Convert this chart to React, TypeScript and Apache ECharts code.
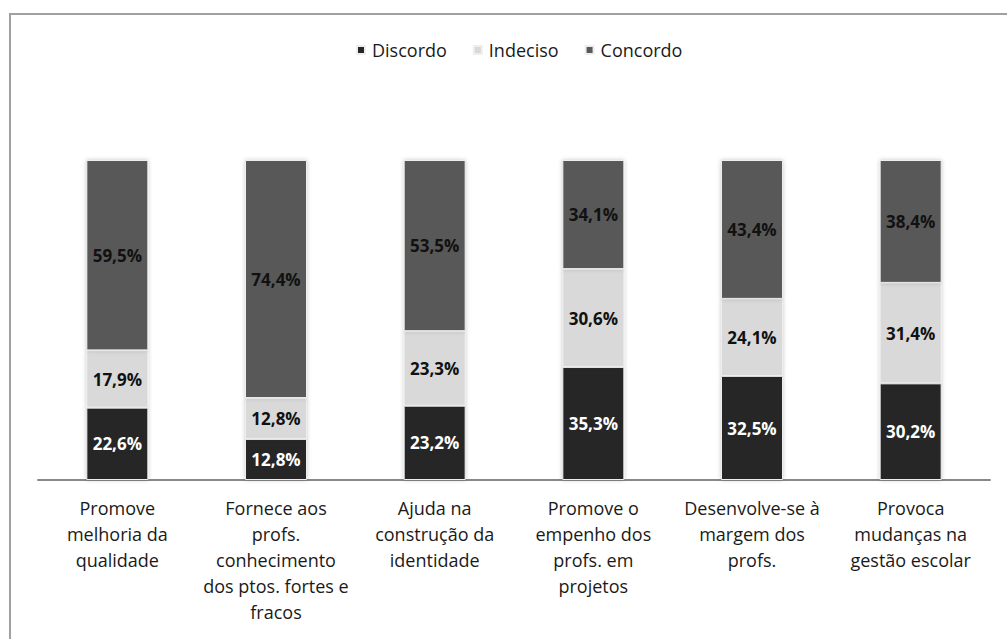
import React, { useEffect, useRef } from "react";
import * as echarts from "echarts";

const categories = [
  "Promove\nmelhoria da\nqualidade",
  "Fornece aos\nprofs.\nconhecimento\ndos ptos. fortes e\nfracos",
  "Ajuda na\nconstrução da\nidentidade",
  "Promove o\nempenho dos\nprofs. em\nprojetos",
  "Desenvolve-se à\nmargem dos\nprofs.",
  "Provoca\nmudanças na\ngestão escolar",
];
const discordo = [22.6, 12.8, 23.2, 35.3, 32.5, 30.2];
const indeciso = [17.9, 12.8, 23.3, 30.6, 24.1, 31.4];
const concordo = [59.5, 74.4, 53.5, 34.1, 43.4, 38.4];

const FONT = "'Open Sans', sans-serif";

export default function App() {
  const ref = useRef<HTMLDivElement>(null);
  useEffect(() => {
    const chart = echarts.init(ref.current!, null, { renderer: "svg" });
    const fmt = (p: any) => p.value.toFixed(1).replace(".", ",") + "%";
    const mk = (name: string, data: number[], color: string, labelColor: string) => ({
      name,
      type: "bar",
      stack: "total",
      data,
      barWidth: 62,
      itemStyle: {
        color,
        borderColor: "#eeeeee",
        borderWidth: 1,
        shadowBlur: 4,
        shadowColor: "rgba(0,0,0,0.22)",
      },
      label: {
        show: true,
        position: "inside",
        formatter: fmt,
        color: labelColor,
        fontFamily: FONT,
        fontWeight: "bold",
        fontSize: 17,
      },
    });
    chart.setOption({
      animation: false,
      backgroundColor: "#ffffff",
      graphic: [
        {
          type: "rect",
          shape: { x: 10, y: 14, width: 1200, height: 800 },
          style: { fill: "none", stroke: "#a0a0a0", lineWidth: 2 },
          silent: true,
        },
      ],
      legend: {
        left: 351,
        top: 36,
        itemWidth: 8,
        itemHeight: 8,
        itemGap: 26,
        icon: "rect",
        textStyle: { fontFamily: FONT, fontSize: 18, color: "#1a1a1a", padding: [0, 0, 0, 2] },
        data: ["Discordo", "Indeciso", "Concordo"],
      },
      grid: { left: 38, right: 17, top: 160, bottom: 159 },
      xAxis: {
        type: "category",
        data: categories,
        axisLine: { lineStyle: { color: "#888888", width: 2 } },
        axisTick: { show: false },
        axisLabel: {
          interval: 0,
          fontFamily: FONT,
          fontSize: 18,
          color: "#1a1a1a",
          lineHeight: 26,
          margin: 15,
        },
      },
      yAxis: {
        type: "value",
        min: 0,
        max: 100,
        show: false,
        splitLine: { show: false },
      },
      series: [
        mk("Discordo", discordo, "#262626", "#ffffff"),
        mk("Indeciso", indeciso, "#d9d9d9", "#111111"),
        mk("Concordo", concordo, "#595959", "#111111"),
      ],
    });
    return () => chart.dispose();
  }, []);
  return (
    <div
      ref={ref}
      style={{ position: "fixed", left: 0, top: 0, width: 1007, height: 639 }}
    />
  );
}
